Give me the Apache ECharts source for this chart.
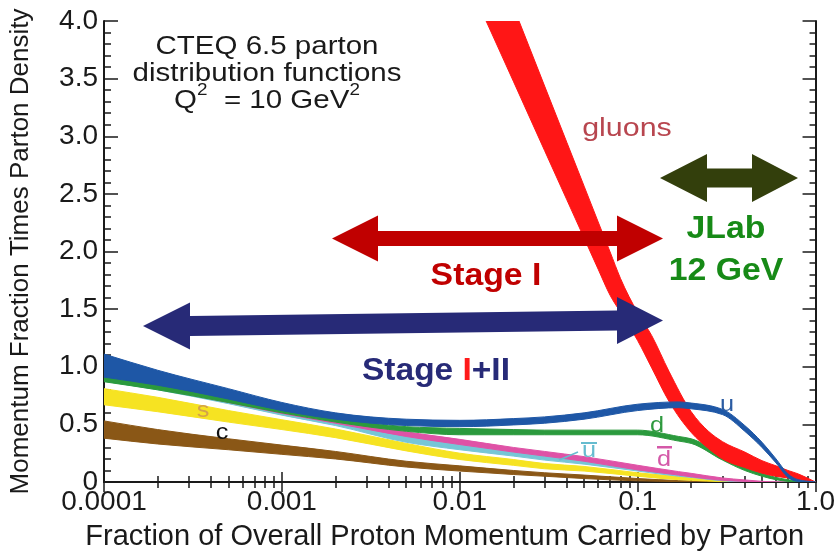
<!DOCTYPE html>
<html><head><meta charset="utf-8">
<script src="https://cdn.jsdelivr.net/npm/echarts@6/dist/echarts.min.js"></script>
<style>html,body{margin:0;padding:0;background:#fff}#c{width:838px;height:556px}</style>
</head><body><div id="c"></div>
<script>
// ---------- data ----------
const xTickLabels = ['0.0001', '0.001', '0.01', '0.1', '1.0'];
const yTickLabels = ['0', '0.5', '1.0', '1.5', '2.0', '2.5', '3.0', '3.5', '4.0'];

const quarkX   = [0.0001, 0.0002, 0.0005, 0.001, 0.002, 0.005, 0.01, 0.02, 0.03, 0.05, 0.1, 0.17, 0.2, 0.3, 0.4, 0.5, 0.6, 0.7, 0.8, 1.0];
const uLow     = [0.91, 0.84, 0.72, 0.62, 0.545, 0.49, 0.48, 0.495, 0.51, 0.545, 0.62, 0.645, 0.635, 0.585, 0.44, 0.30, 0.165, 0.04, 0.005, 0];
const uHigh    = [1.11, 0.97, 0.81, 0.69, 0.60, 0.545, 0.535, 0.55, 0.565, 0.60, 0.675, 0.695, 0.685, 0.63, 0.49, 0.345, 0.20, 0.07, 0.02, 0];
const dLow     = [0.87, 0.80, 0.69, 0.60, 0.52, 0.44, 0.41, 0.41, 0.41, 0.41, 0.41, 0.355, 0.335, 0.19, 0.10, 0.05, 0.02, 0.005, 0, 0];
const dHigh    = [0.93, 0.86, 0.745, 0.645, 0.56, 0.48, 0.465, 0.455, 0.45, 0.45, 0.45, 0.395, 0.375, 0.23, 0.13, 0.075, 0.04, 0.02, 0.008, 0];
const dbarLow  = [0.885, 0.81, 0.69, 0.595, 0.51, 0.395, 0.325, 0.26, 0.225, 0.18, 0.105, 0.06, 0.045, 0.015, 0.005, 0, 0, 0, 0, 0];
const dbarHigh = [0.92, 0.85, 0.73, 0.635, 0.545, 0.435, 0.37, 0.30, 0.265, 0.22, 0.145, 0.09, 0.075, 0.035, 0.018, 0.006, 0, 0, 0, 0];
const ubarLow  = [0.875, 0.80, 0.68, 0.58, 0.49, 0.345, 0.28, 0.225, 0.19, 0.155, 0.095, 0.05, 0.04, 0.01, 0, 0, 0, 0, 0, 0];
const ubarHigh = [0.91, 0.84, 0.715, 0.615, 0.525, 0.395, 0.325, 0.26, 0.225, 0.19, 0.125, 0.075, 0.06, 0.025, 0.01, 0, 0, 0, 0, 0];
const sLow     = [0.67, 0.61, 0.52, 0.455, 0.385, 0.27, 0.195, 0.145, 0.115, 0.095, 0.05, 0.02, 0.015, 0.003, 0, 0, 0, 0, 0, 0];
const sHigh    = [0.81, 0.735, 0.62, 0.54, 0.46, 0.335, 0.25, 0.195, 0.16, 0.135, 0.08, 0.045, 0.035, 0.012, 0.004, 0, 0, 0, 0, 0];
const cLow     = [0.38, 0.33, 0.28, 0.24, 0.20, 0.13, 0.095, 0.065, 0.05, 0.03, 0.01, 0.003, 0, 0, 0, 0, 0, 0, 0, 0];
const cHigh    = [0.53, 0.455, 0.375, 0.32, 0.265, 0.18, 0.14, 0.10, 0.08, 0.06, 0.03, 0.012, 0.008, 0, 0, 0, 0, 0, 0, 0];

const gluonX    = [0.013, 0.015, 0.02, 0.03, 0.04, 0.05, 0.06, 0.07, 0.08, 0.1, 0.12, 0.15, 0.2, 0.25, 0.3, 0.4, 0.5, 0.6, 0.7, 0.8, 1.0];
const gluonLow  = [4.115, 3.905, 3.478, 2.875, 2.448, 2.117, 1.846, 1.62, 1.474, 1.227, 0.99, 0.70, 0.43, 0.29, 0.20, 0.125, 0.077, 0.05, 0.035, 0.022, 0];
const gluonHigh = [4.86, 4.61, 4.125, 3.435, 2.946, 2.567, 2.256, 1.996, 1.768, 1.47, 1.27, 0.96, 0.61, 0.44, 0.35, 0.26, 0.185, 0.14, 0.10, 0.07, 0];

// ---------- helpers ----------
const FONT = "'Liberation Sans', Arial, Helvetica, sans-serif";

function monoSegs(p) {
  const n = p.length, m = new Array(n), d = [];
  for (let i = 0; i < n - 1; i++) {
    const h = p[i + 1][0] - p[i][0];
    d.push(h === 0 ? 0 : (p[i + 1][1] - p[i][1]) / h);
  }
  m[0] = d[0]; m[n - 1] = d[n - 2];
  for (let i = 1; i < n - 1; i++) {
    if (d[i - 1] * d[i] <= 0) { m[i] = 0; continue; }
    const h0 = p[i][0] - p[i - 1][0], h1 = p[i + 1][0] - p[i][0];
    const q = (d[i - 1] * h1 + d[i] * h0) / (h0 + h1);
    m[i] = (Math.sign(d[i - 1]) + Math.sign(d[i])) * Math.min(Math.abs(d[i - 1]), Math.abs(d[i]), 0.5 * Math.abs(q));
  }
  const segs = [];
  for (let i = 0; i < n - 1; i++) {
    const h = (p[i + 1][0] - p[i][0]) / 3;
    segs.push([p[i], [p[i][0] + h, p[i][1] + m[i] * h], [p[i + 1][0] - h, p[i + 1][1] - m[i + 1] * h], p[i + 1]]);
  }
  return segs;
}
const f = v => v.toFixed(2);

function bandSeries(name, xs, lo, hi, color, z) {
  return {
    type: 'custom', name: name, z: z, clip: true, silent: true,
    data: xs.map((x, i) => [x, lo[i], hi[i]]),
    encode: { x: 0, y: [1, 2] },
    renderItem: function (params, api) {
      if (params.dataIndex !== 0) return null;
      const up = [], dn = [];
      for (let i = 0; i < xs.length; i++) {
        up.push(api.coord([xs[i], hi[i]]));
        dn.push(api.coord([xs[i], lo[i]]));
      }
      const su = monoSegs(up), sd = monoSegs(dn);
      let s = 'M' + f(up[0][0]) + ' ' + f(up[0][1]);
      su.forEach(g => { s += ' C' + f(g[1][0]) + ' ' + f(g[1][1]) + ' ' + f(g[2][0]) + ' ' + f(g[2][1]) + ' ' + f(g[3][0]) + ' ' + f(g[3][1]); });
      const last = dn[dn.length - 1];
      s += ' L' + f(last[0]) + ' ' + f(last[1]);
      for (let k = sd.length - 1; k >= 0; k--) {
        const g = sd[k];
        s += ' C' + f(g[2][0]) + ' ' + f(g[2][1]) + ' ' + f(g[1][0]) + ' ' + f(g[1][1]) + ' ' + f(g[0][0]) + ' ' + f(g[0][1]);
      }
      s += ' Z';
      return { type: 'path', shape: { pathData: s }, style: { fill: color, stroke: color, lineWidth: 1 } };
    }
  };
}

function txt(x, y, text, size, color, opts) {
  opts = opts || {};
  return {
    type: 'text', x: x, y: y, scaleX: opts.sx || 1, z: 100,
    style: {
      text: text, x: 0, y: 0, fill: color,
      fontSize: size, fontFamily: FONT, fontWeight: opts.bold ? 'bold' : 'normal',
      textAlign: 'center', align: 'center', textVerticalAlign: 'middle', verticalAlign: 'middle',
      rich: opts.rich
    }
  };
}
function poly(points, color) {
  return { type: 'polygon', z: 100, shape: { points: points }, style: { fill: color } };
}

// ---------- chart ----------
const chart = echarts.init(document.getElementById('c'), null, { renderer: 'canvas' });

const axisLineStyle = { color: '#1a1a1a', width: 2 };
const tickStyle = { color: '#1a1a1a', width: 1.5 };

const option = {
  backgroundColor: '#ffffff',
  animation: false,
  grid: { left: 103, right: 20, top: 21, bottom: 72, containLabel: false },
  xAxis: [
    {
      type: 'log', logBase: 10, min: 0.0001, max: 1, position: 'bottom',
      name: 'Fraction of Overall Proton Momentum Carried by Parton',
      nameLocation: 'middle', nameGap: 40,
      nameTextStyle: { fontSize: 29, color: '#1a1a1a', fontFamily: FONT, padding: [0, 30, 0, 0] },
      axisLine: { show: true, lineStyle: axisLineStyle },
      axisTick: { show: true, inside: true, length: 10, lineStyle: tickStyle },
      minorTick: { show: true, splitNumber: 9, length: 6, lineStyle: tickStyle },
      axisLabel: {
        show: true, margin: 6, fontSize: 28, color: '#1a1a1a', fontFamily: FONT,
        showMinLabel: true, showMaxLabel: true, hideOverlap: false,
        formatter: v => { const k = Math.round(Math.log10(v)) + 4; return xTickLabels[k] !== undefined ? xTickLabels[k] : ''; }
      },
      splitLine: { show: false }, minorSplitLine: { show: false }
    },
    {
      type: 'log', logBase: 10, min: 0.0001, max: 1, position: 'top',
      axisLine: { show: true, lineStyle: axisLineStyle },
      axisTick: { show: true, inside: true, length: 10, lineStyle: tickStyle },
      minorTick: { show: true, splitNumber: 9, length: 6, lineStyle: tickStyle },
      axisLabel: { show: false }, splitLine: { show: false }
    }
  ],
  yAxis: [
    {
      type: 'value', min: 0, max: 4, interval: 0.5, position: 'left',
      name: 'Momentum Fraction Times Parton Density',
      nameLocation: 'middle', nameGap: 70,
      nameTextStyle: { fontSize: 26, color: '#1a1a1a', fontFamily: FONT },
      axisLine: { show: true, lineStyle: axisLineStyle },
      axisTick: { show: true, inside: true, length: 14, lineStyle: tickStyle },
      minorTick: { show: true, splitNumber: 5, length: 7, lineStyle: tickStyle },
      axisLabel: {
        show: true, margin: 6, fontSize: 28, color: '#1a1a1a', fontFamily: FONT,
        formatter: v => { const k = Math.round(v * 2); return yTickLabels[k] !== undefined ? yTickLabels[k] : ''; }
      },
      splitLine: { show: false }
    },
    {
      type: 'value', min: 0, max: 4, interval: 0.5, position: 'right',
      axisLine: { show: true, lineStyle: axisLineStyle },
      axisTick: { show: true, inside: true, length: 13, lineStyle: tickStyle },
      minorTick: { show: true, splitNumber: 5, length: 6, lineStyle: tickStyle },
      axisLabel: { show: false }, splitLine: { show: false }
    }
  ],
  series: [
    bandSeries('c', quarkX, cLow, cHigh, '#8a5716', 2),
    bandSeries('s', quarkX, sLow, sHigh, '#f6e322', 3),
    bandSeries('ubar', quarkX, ubarLow, ubarHigh, '#76c6d6', 4),
    bandSeries('dbar', quarkX, dbarLow, dbarHigh, '#df52a6', 5),
    bandSeries('d', quarkX, dLow, dHigh, '#2b9a3d', 6),
    bandSeries('gluons', gluonX, gluonLow, gluonHigh, '#ff1616', 7),
    bandSeries('u', quarkX, uLow, uHigh, '#1e57a6', 8)
  ],
  graphic: [
    // CTEQ caption
    txt(267, 47.5, 'CTEQ 6.5 parton', 25, '#1a1a1a', { sx: 1.18 }),
    txt(267, 74, 'distribution functions', 25, '#1a1a1a', { sx: 1.18 }),
    txt(267, 101, '{n|Q}{p|2}{n|  = 10 GeV}{p|2}', 25, '#1a1a1a', {
      sx: 1.18,
      rich: {
        n: { fontSize: 25, fontFamily: FONT, fill: '#1a1a1a', lineHeight: 36, verticalAlign: 'middle' },
        p: { fontSize: 16, fontFamily: FONT, fill: '#1a1a1a', lineHeight: 16, verticalAlign: 'top' }
      }
    }),
    // gluons label
    txt(627, 129, 'gluons', 26, '#b8464f', { sx: 1.17 }),
    // JLab arrow + text
    poly([[660, 178], [707, 154], [707, 168.5], [752, 168.5], [752, 154], [798, 178], [752, 202], [752, 187.5], [707, 187.5], [707, 202]], '#333f0c'),
    txt(726, 229, 'JLab', 31, '#178a17', { bold: true, sx: 1.09 }),
    txt(726, 271, '12 GeV', 31, '#178a17', { bold: true, sx: 1.09 }),
    // Stage I arrow + text
    poly([[332, 238.5], [378, 215.5], [378, 231], [617, 231], [617, 215.5], [663, 238.5], [617, 261.5], [617, 246], [378, 246], [378, 261.5]], '#c00000'),
    txt(486, 276.5, 'Stage I', 31, '#c00000', { bold: true, sx: 1.09 }),
    // Stage I+II arrow + text
    poly([[143, 326], [190, 302.5], [190, 316], [617, 310.5], [617, 297], [663, 320.5], [617, 344], [617, 330.5], [190, 336], [190, 349.5]], '#272a77'),
    txt(436, 371.5, '{n|Stage }{r|I}{n|+II}', 31, '#272a77', {
      bold: true, sx: 1.08,
      rich: {
        n: { fontSize: 31, fontFamily: FONT, fontWeight: 'bold', fill: '#272a77' },
        r: { fontSize: 31, fontFamily: FONT, fontWeight: 'bold', fill: '#ff1a1a' }
      }
    }),
    // parton labels
    txt(727, 405, 'u', 22, '#2b5ca3', { sx: 1.15 }),
    txt(657, 425.5, 'd', 22, '#2f9a3f', { sx: 1.15 }),
    txt(203, 410.5, 's', 22, '#d4a24a', { sx: 1.15 }),
    txt(222, 432.5, 'c', 22, '#111111', { sx: 1.15 }),
    txt(589, 450.5, 'u', 22, '#66bccf', { sx: 1.15 }),
    { type: 'rect', z: 100, shape: { x: 581, y: 442, width: 16, height: 2 }, style: { fill: '#66bccf' } },
    { type: 'line', z: 100, shape: { x1: 559, y1: 460, x2: 578, y2: 452 }, style: { stroke: '#66bccf', lineWidth: 1.5 } },
    txt(664, 460, 'd', 22, '#d458a8', { sx: 1.15 }),
    { type: 'rect', z: 100, shape: { x: 657, y: 446, width: 15, height: 2.5 }, style: { fill: '#d458a8' } }
  ]
};
chart.setOption(option);
</script>
</body></html>
